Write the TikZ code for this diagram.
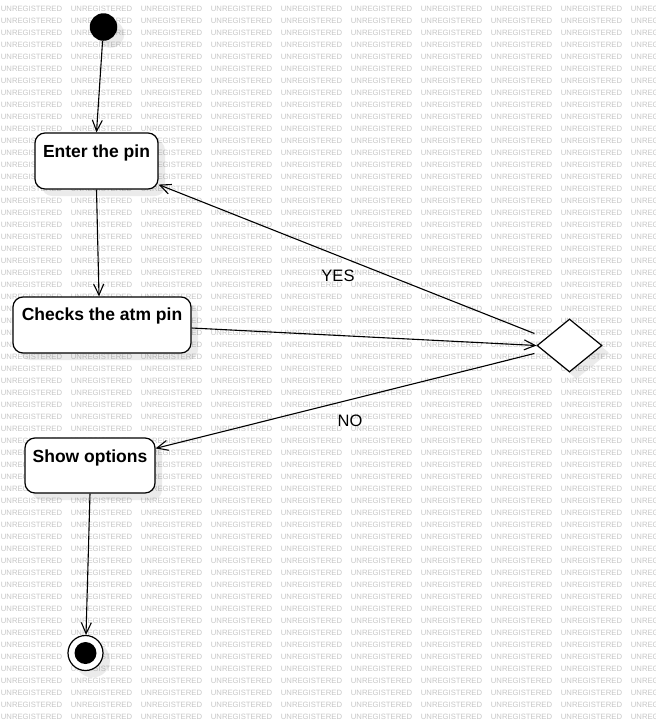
\documentclass[tikz,border=0pt]{standalone}
\usepackage{fontspec}
\setmainfont{Liberation Sans}
\usetikzlibrary{arrows.meta,shapes.geometric,shadows,calc}
\begin{document}
\begin{tikzpicture}[x=1pt,y=-1pt,
  wm/.style={anchor=base west, inner sep=0, font=\fontsize{7.7}{8}\selectfont, text=black!22},
  shade/.style={drop shadow={shadow xshift=7pt, shadow yshift=-7pt, fill=black, opacity=0.08}},
  stepbox/.style={draw, line width=1.2pt, rounded corners=10pt, fill=white, inner sep=0, shade},
  lbl/.style={anchor=base, inner sep=0, font=\fontsize{17.5}{20}\selectfont\bfseries},
  guard/.style={anchor=center, inner sep=0, font=\fontsize{16.5}{19}\selectfont},
  flow/.style={line width=1.1pt, -{Straight Barb[length=11pt,width=10pt,line width=1.1pt]}}]
\useasboundingbox (0,0) rectangle (656,724);
\fill[white] (0,0) rectangle (656,724);

% tiled background lettering
\begin{scope}
  \clip (0,0) rectangle (656,724);
  \foreach \r in {0,...,59}
    \foreach \c in {0,...,9}
      \node[wm] at ({0.7+70*\c},{11.8+12*\r}) {UNREGISTERED};
\end{scope}

% activity nodes
\node[circle, fill=black, minimum size=27.5pt, inner sep=0, shade] (init) at (103.5,27) {};

\node[stepbox, minimum width=123pt, minimum height=56pt] (enter) at (96.5,161) {};
\node[lbl] (enterlbl) at (96.5,157) {Enter the pin};

\node[stepbox, minimum width=178pt, minimum height=56pt] (checks) at (102,325) {};
\node[lbl] (checkslbl) at (102,320) {Checks the atm pin};

\node[stepbox, minimum width=130pt, minimum height=55pt] (show) at (90,465.5) {};
\node[lbl] (showlbl) at (90,462) {Show options};

\node[diamond, draw, fill=white, line width=1.2pt, minimum width=65pt, minimum height=53pt,
      inner sep=0, shade] (dec) at (569.5,345.5) {};

\node[circle, draw, line width=1.2pt, fill=white, minimum size=35pt, inner sep=0, shade,
      path picture={\fill[black] (path picture bounding box.center) circle (11pt);}] (final) at (85.5,653) {};

% guard labels
\node[guard] (yes) at (338,276) {YES};
\node[guard] (no) at (350,421) {NO};

% control flow
\draw[flow] (init) -- (enter.north);
\draw[flow] (enter.south) -- ($(checks.north)+(-3,0)$);
\draw[flow] ($(checks.east)+(0,3)$) -- (dec.west);
\draw[flow] ($(dec.west)+(-2,-12)$) -- ($(enter.south east)+(0,-5)$);
\draw[flow] ($(dec.west)+(-2,8)$) -- ($(show.north east)+(0,11)$);
\draw[flow] (show.south) -- (final);
\end{tikzpicture}
\end{document}
